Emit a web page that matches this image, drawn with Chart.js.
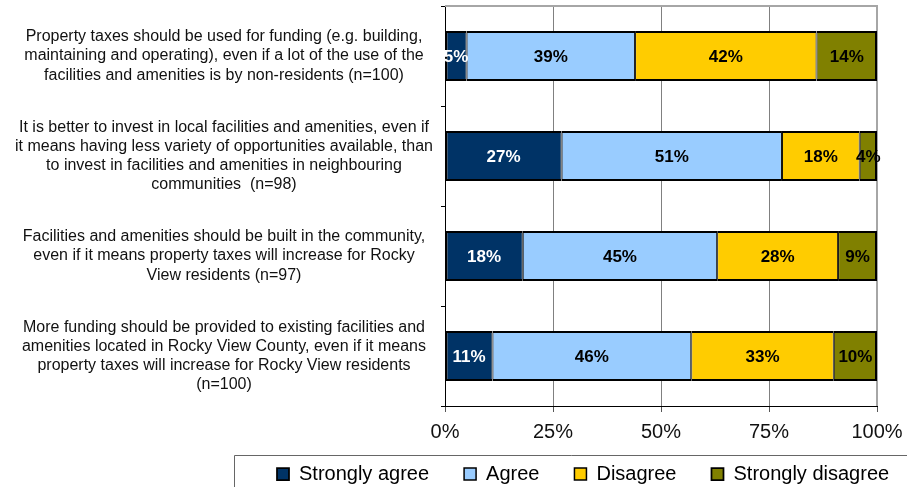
<!DOCTYPE html>
<html>
<head>
<meta charset="utf-8">
<script src="https://cdn.jsdelivr.net/npm/chart.js@4/dist/chart.umd.min.js"></script>
<style>
  html, body { margin: 0; padding: 0; background: #fff; }
  #wrap { width: 907px; height: 487px; }
</style>
</head>
<body>
<div id="wrap"><canvas id="surveyChart" width="907" height="487"></canvas></div>
<script>
// statements (one array of lines per category)
const categories = [
  ["Property taxes should be used for funding (e.g. building,",
   "maintaining and operating), even if a lot of the use of the",
   "facilities and amenities is by non-residents (n=100)"],
  ["It is better to invest in local facilities and amenities, even if",
   "it means having less variety of opportunities available, than",
   "to invest in facilities and amenities in neighbouring",
   "communities  (n=98)"],
  ["Facilities and amenities should be built in the community,",
   "even if it means property taxes will increase for Rocky",
   "View residents (n=97)"],
  ["More funding should be provided to existing facilities and",
   "amenities located in Rocky View County, even if it means",
   "property taxes will increase for Rocky View residents",
   "(n=100)"]
];

const seriesNames = ["Strongly agree", "Agree", "Disagree", "Strongly disagree"];
const stronglyAgree = [5, 27, 18, 11];
const agree = [39, 51, 45, 46];
const disagree = [42, 18, 28, 33];
const stronglyDisagree = [14, 4, 9, 10];
const tickValues = [0, 25, 50, 75, 100];
const tickLabels = ["0%", "25%", "50%", "75%", "100%"];

const colors = ["#003366", "#99ccff", "#ffcc00", "#808000"];
const labelColors = ["#ffffff", "#000000", "#000000", "#000000"];

Chart.defaults.font.family = "'Liberation Sans', Arial, sans-serif";
Chart.defaults.color = "#000";

function makeSet(i, data, border) {
  return {
    label: seriesNames[i],
    data: data,
    backgroundColor: colors[i],
    borderColor: "#000",
    borderWidth: border,
    borderSkipped: false,
    barPercentage: 0.5,
    categoryPercentage: 1.0
  };
}

// percentage text in the middle of each segment
const barLabels = {
  id: "barLabels",
  afterDatasetsDraw(chart) {
    const ctx = chart.ctx;
    ctx.save();
    ctx.font = "bold 17px 'Liberation Sans', Arial, sans-serif";
    ctx.textAlign = "center";
    ctx.textBaseline = "middle";
    chart.data.datasets.forEach((ds, i) => {
      const meta = chart.getDatasetMeta(i);
      ctx.fillStyle = labelColors[i];
      meta.data.forEach((bar, j) => {
        const cx = (bar.x + bar.base) / 2;
        ctx.fillText(ds.data[j] + "%", cx, bar.y + 1);
      });
    });
    ctx.restore();
  }
};

// plot frame (top / right) and the boxed legend at the bottom
const frame = {
  id: "frame",
  beforeDraw(chart) {
    const lg = chart.legend;
    const a = chart.chartArea;
    lg.left = a.left - 168 - 35;
    lg.right = lg.left + 900;
    lg.top = a.bottom + 23;
  },
  beforeDatasetsDraw(chart) {
    const a = chart.chartArea;
    const ctx = chart.ctx;
    ctx.save();
    ctx.strokeStyle = "#a6a6a6";
    ctx.lineWidth = 2;
    ctx.beginPath();
    ctx.moveTo(a.left, a.top);
    ctx.lineTo(a.right, a.top);
    ctx.lineTo(a.right, a.bottom);
    ctx.stroke();
    ctx.restore();
  },
  afterDraw(chart) {
    const a = chart.chartArea;
    const ctx = chart.ctx;
    const x0 = Math.round(a.left - 211) + 0.5;
    const y0 = Math.round(a.bottom + 49) + 0.5;
    ctx.save();
    ctx.strokeStyle = "#666";
    ctx.lineWidth = 1;
    ctx.beginPath();
    ctx.moveTo(x0, chart.height + 2);
    ctx.lineTo(x0, y0);
    ctx.lineTo(chart.width + 2, y0);
    ctx.stroke();
    ctx.restore();
  }
};

new Chart(document.getElementById("surveyChart"), {
  type: "bar",
  data: {
    labels: categories,
    datasets: [
      makeSet(0, stronglyAgree, {top: 2, bottom: 2, left: 2, right: 1}),
      makeSet(1, agree, {top: 2, bottom: 2, left: 1, right: 1}),
      makeSet(2, disagree, {top: 2, bottom: 2, left: 1, right: 1}),
      makeSet(3, stronglyDisagree, {top: 2, bottom: 2, left: 1, right: 2})
    ]
  },
  options: {
    indexAxis: "y",
    responsive: false,
    animation: false,
    layout: { padding: { left: 0, right: 30, top: 6, bottom: 0 } },
    scales: {
      x: {
        stacked: true,
        min: 0,
        max: 100,
        afterBuildTicks(scale) {
          scale.ticks = tickValues.map(v => ({ value: v }));
        },
        afterFit(scale) { scale.paddingLeft = 0; scale.paddingRight = 0; },
        ticks: {
          font: { size: 20 },
          color: "#111",
          padding: 8,
          maxRotation: 0,
          callback: (v) => tickLabels[tickValues.indexOf(v)]
        },
        grid: { color: "#808080", lineWidth: 1, tickLength: 6, tickColor: "#555" },
        border: { color: "#000", width: 1 }
      },
      y: {
        stacked: true,
        afterFit(scale) {
          scale.width = 445;
          scale.paddingTop = 0;
          scale.paddingBottom = 0;
        },
        ticks: {
          font: { size: 16, lineHeight: 1.2 },
          color: "#111",
          crossAlign: "center",
          padding: 8,
          autoSkip: false
        },
        grid: { drawOnChartArea: false, drawTicks: true, tickLength: 4, color: "#000", offset: true },
        border: { color: "#000", width: 1 }
      }
    },
    plugins: {
      tooltip: { enabled: false },
      legend: {
        position: "bottom",
        align: "start",
        maxHeight: 35,
        labels: {
          font: { size: 20 },
          color: "#000",
          boxWidth: 12,
          boxHeight: 12,
          padding: 35
        }
      }
    }
  },
  plugins: [barLabels, frame]
});
</script>
</body>
</html>
